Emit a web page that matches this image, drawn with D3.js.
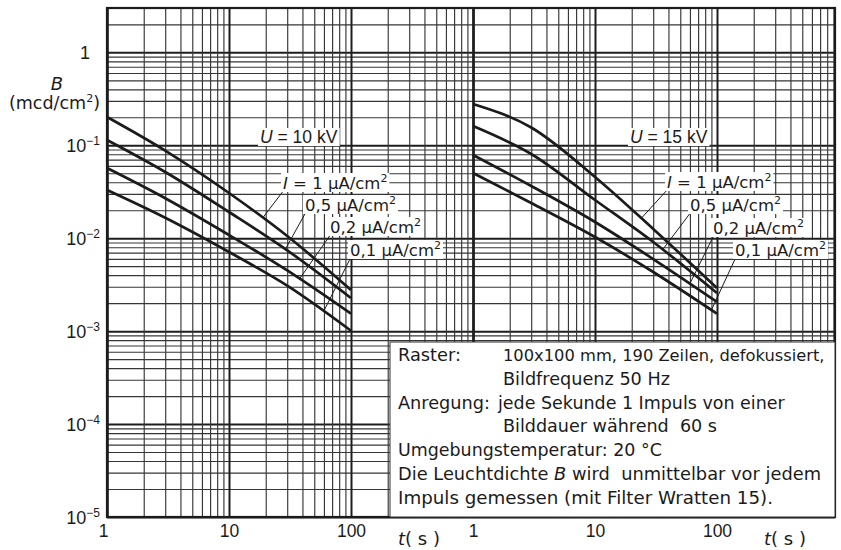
<!DOCTYPE html>
<html>
<head>
<meta charset="utf-8">
<script src="https://cdn.jsdelivr.net/npm/d3@7"></script>
<style>
  html, body { margin: 0; padding: 0; background: #fff; }
  svg { display: block; }
  text { fill: #1b1b1b; white-space: pre; }
</style>
</head>
<body>
<svg id="chart" width="841" height="550"></svg>
<script>
// Sample times t (s) at which the decay curves were read
const tSamples = [1, 3, 10, 30, 100];

// Luminance B (mcd/cm²), U = 10 kV, one array per current density
const b10_I1  = [0.2015, 0.0876, 0.03065, 0.01056, 0.00277];
const b10_I05 = [0.114, 0.0516, 0.01914, 0.00741, 0.00227];
const b10_I02 = [0.0569, 0.02695, 0.01083, 0.0045, 0.00154];
const b10_I01 = [0.033, 0.01658, 0.0071, 0.00309, 0.00101];

// Luminance B (mcd/cm²), U = 15 kV
const b15_I1  = [0.278, 0.1553, 0.04557, 0.01257, 0.00291];
const b15_I05 = [0.1612, 0.0806, 0.02578, 0.0091, 0.00257];
const b15_I02 = [0.0786, 0.03646, 0.01494, 0.00597, 0.00206];
const b15_I01 = [0.0503, 0.02393, 0.0103, 0.00433, 0.00154];

// Current density labels (µA/cm²) and where their leader lines meet the curves (t in s)
const currentLabels = ["1", "0,5", "0,2", "0,1"];
const leaderT10 = [19, 29, 38, 60];
const leaderT15 = [24, 36, 60, 90];

// Tick labels
const xTickValues = [1, 10, 100];
const yTickExponents = [0, -1, -2, -3, -4, -5];

// Test conditions printed in the lower right box: [text, x, width]
const noteRows = [
  [["Raster:", 398, 63], ["100x100 mm, 190 Zeilen, defokussiert,", 503, 322]],
  [["Bildfrequenz 50 Hz", 503, 167]],
  [["Anregung:", 398, 92], ["jede Sekunde 1 Impuls von einer", 498, 287]],
  [["Bilddauer während  60 s", 503, 214]],
  [["Umgebungstemperatur: 20 °C", 398, 264]],
  [["Die Leuchtdichte |B| wird  unmittelbar vor jedem", 398, 423]],
  [["Impuls gemessen (mit Filter Wratten 15).", 398, 375]]
];

// ---------------------------------------------------------------- layout
const svg = d3.select("#chart");
const plotLeft = 107, plotTop = 8, plotBottom = 517, plotRight = 835;
const panelWidth = 366;            // three decades per panel
const tMax = 1000;

const xL = d3.scaleLog().domain([1, tMax]).range([plotLeft, plotLeft + panelWidth]);
const xR = d3.scaleLog().domain([1, tMax]).range([plotLeft + panelWidth, plotLeft + 2 * panelWidth]);
const y = d3.scaleLog().domain([1e-5, 3]).range([plotBottom, plotTop]);

const fontText = "'DejaVu Sans', 'Noto Sans', sans-serif";
const fontNum = "'Liberation Sans', Arial, sans-serif";
const ink = "#1b1b1b";

// log-paper grid values
function logGrid(lo, hi) {
  const out = [];
  for (let e = -6; e <= 3; e++) {
    for (let n = 1; n <= 9; n++) {
      const v = n * Math.pow(10, e);
      if (v >= lo * 0.9999 && v <= hi * 1.0001) out.push(v);
    }
  }
  return out;
}
const isDecade = v => Math.abs(Math.log10(v) - Math.round(Math.log10(v))) < 1e-6;

const grid = svg.append("g").attr("class", "grid");

// horizontal grid lines across both panels
const yGrid = logGrid(1e-5, 3);
grid.append("g")
  .attr("transform", `translate(${plotLeft},0)`)
  .call(d3.axisLeft(y).tickValues(yGrid).tickSize(-(plotRight - plotLeft)).tickFormat(""))
  .call(g => g.select(".domain").remove())
  .call(g => g.selectAll(".tick line")
    .attr("stroke", d => isDecade(d) ? "#1e1e1e" : "#363636")
    .attr("stroke-width", d => isDecade(d) ? 2 : 1.15));

// vertical grid lines for each panel
[xL, xR].forEach(sx => {
  const vals = logGrid(1, tMax).filter(v => sx(v) <= plotRight + 0.5);
  grid.append("g")
    .attr("transform", `translate(0,${plotBottom})`)
    .call(d3.axisBottom(sx).tickValues(vals).tickSize(-(plotBottom - plotTop)).tickFormat(""))
    .call(g => g.select(".domain").remove())
    .call(g => g.selectAll(".tick line")
      .attr("stroke", d => isDecade(d) ? "#1e1e1e" : "#363636")
      .attr("stroke-width", d => (d === 1 ? 2.6 : isDecade(d) ? 2 : 1.15)));
});

// outer frame
svg.append("rect")
  .attr("x", plotLeft).attr("y", plotTop)
  .attr("width", plotRight - plotLeft).attr("height", plotBottom - plotTop)
  .attr("fill", "none").attr("stroke", ink).attr("stroke-width", 2.2);

// ---------------------------------------------------------------- curves
const panels = [
  { sx: xL, volt: "10", series: [b10_I1, b10_I05, b10_I02, b10_I01], leaderT: leaderT10,
    uLabel: { x: 260, y: 143 }, labelX: [283, 305, 330, 350], labelY: [189, 211, 233, 256] },
  { sx: xR, volt: "15", series: [b15_I1, b15_I05, b15_I02, b15_I01], leaderT: leaderT15,
    uLabel: { x: 630, y: 143 }, labelX: [667, 690, 713, 735], labelY: [188, 211, 234, 256] }
];

function pointAtX(node, x) {
  let lo = 0, hi = node.getTotalLength();
  for (let k = 0; k < 40; k++) {
    const mid = (lo + hi) / 2;
    if (node.getPointAtLength(mid).x < x) lo = mid; else hi = mid;
  }
  return node.getPointAtLength((lo + hi) / 2);
}

// white knock-out behind a label so the grid does not run through it
function whiteBehind(textSel, pad) {
  const b = textSel.node().getBBox();
  d3.select(textSel.node().parentNode)
    .insert("rect", () => textSel.node())
    .attr("x", b.x - pad).attr("y", b.y + 1)
    .attr("width", b.width + 2 * pad).attr("height", b.height - 2)
    .attr("fill", "#fff");
}

const curveLayer = svg.append("g");
const labelLayer = svg.append("g");

panels.forEach(p => {
  const line = d3.line()
    .x(d => p.sx(d[0]))
    .y(d => y(d[1]))
    .curve(d3.curveMonotoneX);

  const paths = p.series.map(vals =>
    curveLayer.append("path")
      .datum(tSamples.map((t, i) => [t, vals[i]]))
      .attr("d", line)
      .attr("fill", "none")
      .attr("stroke", ink)
      .attr("stroke-width", 2.7)
      .attr("stroke-linejoin", "round"));

  // U label
  const u = labelLayer.append("g");
  const ut = u.append("text")
    .attr("x", p.uLabel.x).attr("y", p.uLabel.y)
    .attr("font-family", fontNum).attr("font-size", 17.5);
  ut.append("tspan").attr("font-style", "italic").text("U");
  ut.append("tspan").text(" = " + p.volt + " kV");
  whiteBehind(ut, 2);

  // current density labels with leader lines
  currentLabels.forEach((c, i) => {
    const g = labelLayer.append("g");
    const t = g.append("text")
      .attr("x", p.labelX[i]).attr("y", p.labelY[i])
      .attr("font-family", fontText).attr("font-size", 16.5);
    if (i === 0) {
      t.append("tspan").attr("font-style", "italic").text("I");
      t.append("tspan").text(" = 1 µA/cm");
    } else {
      t.append("tspan").text(c + " µA/cm");
    }
    t.append("tspan").attr("font-size", 11).attr("dy", -7).text("2");
    whiteBehind(t, 2);

    const end = pointAtX(paths[i].node(), p.sx(p.leaderT[i]));
    g.insert("line", ":first-child")
      .attr("x1", p.labelX[i] + 1).attr("y1", p.labelY[i] + 1)
      .attr("x2", end.x).attr("y2", end.y)
      .attr("stroke", ink).attr("stroke-width", 1);
  });
});

// ---------------------------------------------------------------- axes labels
[xL, xR].forEach(sx => {
  svg.append("g")
    .attr("transform", `translate(0,${plotBottom})`)
    .call(d3.axisBottom(sx).tickValues(xTickValues).tickSize(0).tickPadding(8).tickFormat(d3.format("d")))
    .call(g => g.select(".domain").remove())
    .call(g => g.selectAll("text")
      .attr("font-family", fontNum).attr("font-size", 17.5).attr("fill", ink)
      .attr("dx", d => (sx === xL && d === 1) ? -4 : 0));
});

const yAxis = svg.append("g")
  .attr("transform", `translate(${plotLeft},0)`)
  .call(d3.axisLeft(y).tickValues(yTickExponents.map(e => Math.pow(10, e))).tickSize(0).tickFormat(""))
  .call(g => g.select(".domain").remove());
yAxis.selectAll(".tick").each(function (d) {
  const e = Math.round(Math.log10(d));
  const t = d3.select(this).append("text")
    .attr("x", e === 0 ? -17 : -7).attr("dy", "0.36em")
    .attr("text-anchor", "end")
    .attr("font-family", fontNum).attr("font-size", 18).attr("fill", ink);
  if (e === 0) {
    t.text("1");
  } else {
    t.append("tspan").text("10");
    t.append("tspan").attr("font-size", 12).attr("dy", -7).text("−" + Math.abs(e));
  }
});

// y axis title
svg.append("text").attr("x", 57).attr("y", 90)
  .attr("font-family", fontText).attr("font-size", 18).attr("font-style", "italic")
  .attr("text-anchor", "middle").text("B");
const yUnit = svg.append("text").attr("x", 100).attr("y", 109)
  .attr("font-family", fontText).attr("font-size", 17.5).attr("text-anchor", "end");
yUnit.append("tspan").text("(mcd/cm");
yUnit.append("tspan").attr("font-size", 11).attr("dy", -7).text("2");
yUnit.append("tspan").attr("dy", 7).text(")");

// t(s) axis titles
[398, 764].forEach(x => {
  const t = svg.append("text").attr("x", x).attr("y", 545)
    .attr("font-family", fontText).attr("font-size", 18);
  t.append("tspan").attr("font-style", "italic").text("t");
  t.append("tspan").text("( s )");
});

// ---------------------------------------------------------------- conditions box
const box = svg.append("g");
box.append("rect")
  .attr("x", 390).attr("y", 342)
  .attr("width", plotRight - 390).attr("height", plotBottom - 342)
  .attr("fill", "#fff").attr("stroke", "#333").attr("stroke-width", 1);

const baseSize = 17.5;
noteRows.forEach((row, i) => {
  const baseY = 361 + i * 23.8;
  row.forEach(([txt, x, w]) => {
    const t = box.append("text")
      .attr("x", x).attr("y", baseY)
      .attr("font-family", fontText).attr("font-size", baseSize);
    txt.split("|").forEach((part, k) => {
      const s = t.append("tspan").text(part);
      if (k % 2 === 1) s.attr("font-style", "italic");
    });
    // shrink lines that would run past their column width, stretch short ones slightly
    const natural = t.node().getComputedTextLength();
    if (natural > w) t.attr("font-size", baseSize * w / natural);
    else t.attr("textLength", w).attr("lengthAdjust", "spacingAndGlyphs");
  });
});
</script>
</body>
</html>
